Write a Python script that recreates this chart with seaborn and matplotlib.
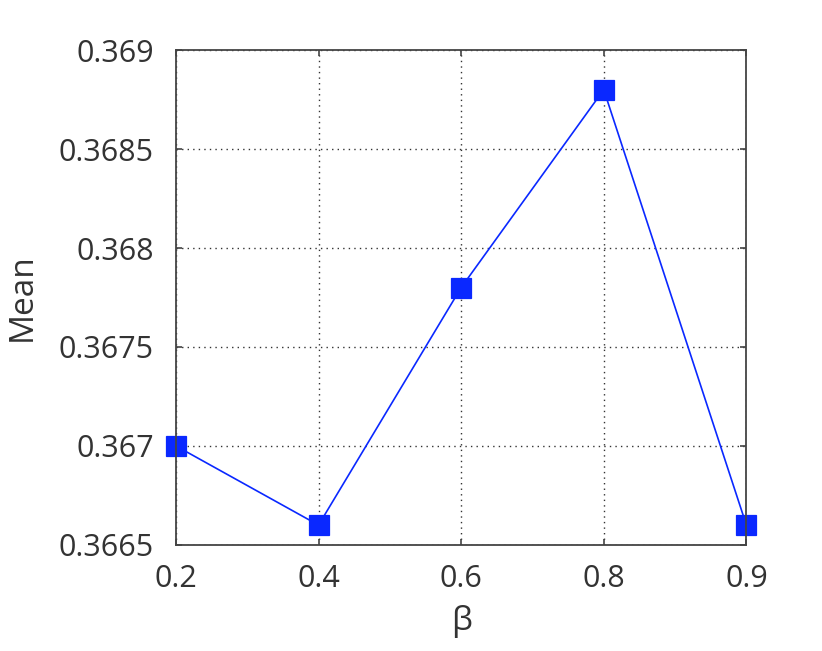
import matplotlib
matplotlib.use('Agg')
import matplotlib.pyplot as plt
import seaborn as sns
import pandas as pd

# values
betas = ['0.2', '0.4', '0.6', '0.8', '0.9']
means = [0.3670, 0.3666, 0.3678, 0.3688, 0.3666]
yticks = [0.3665, 0.367, 0.3675, 0.368, 0.3685, 0.369]
ytick_labels = ['0.3665', '0.367', '0.3675', '0.368', '0.3685', '0.369']

df = pd.DataFrame({'beta': betas, 'mean': means})

sns.set_style('ticks')
plt.rcParams['font.family'] = ['Open Sans', 'DejaVu Sans']

fig = plt.figure(figsize=(8.22, 6.51), dpi=100)
ax = fig.add_axes([0.214, 0.163, 0.694, 0.760])

sns.pointplot(data=df, x='beta', y='mean', ax=ax, color='#0a28ff',
              markers='s', markersize=14.5, linewidth=1.2)
for c in ax.get_children():
    try:
        c.set_clip_on(False)
    except Exception:
        pass

ax.set_xlim(0, 4)
ax.set_ylim(0.3665, 0.369)
ax.set_yticks(yticks)
ax.set_yticklabels(ytick_labels)
ax.grid(True, linestyle=(0, (1, 3)), color='#333333', linewidth=1.0)
ax.set_axisbelow(True)
for s in ax.spines.values():
    s.set_visible(True)
    s.set_linewidth(1.3)
    s.set_color('#444444')
ax.tick_params(direction='in', length=4, width=1.2, labelsize=22,
               colors='#444444', labelcolor='#333333', top=True, right=True)
ax.tick_params(axis='y', pad=16)
ax.tick_params(axis='x', pad=14)
ax.set_xlabel('β', fontsize=24, color='#333333', labelpad=8)
ax.set_ylabel('Mean', fontsize=24, color='#333333', labelpad=14)

fig.savefig('out.png', dpi=100)
